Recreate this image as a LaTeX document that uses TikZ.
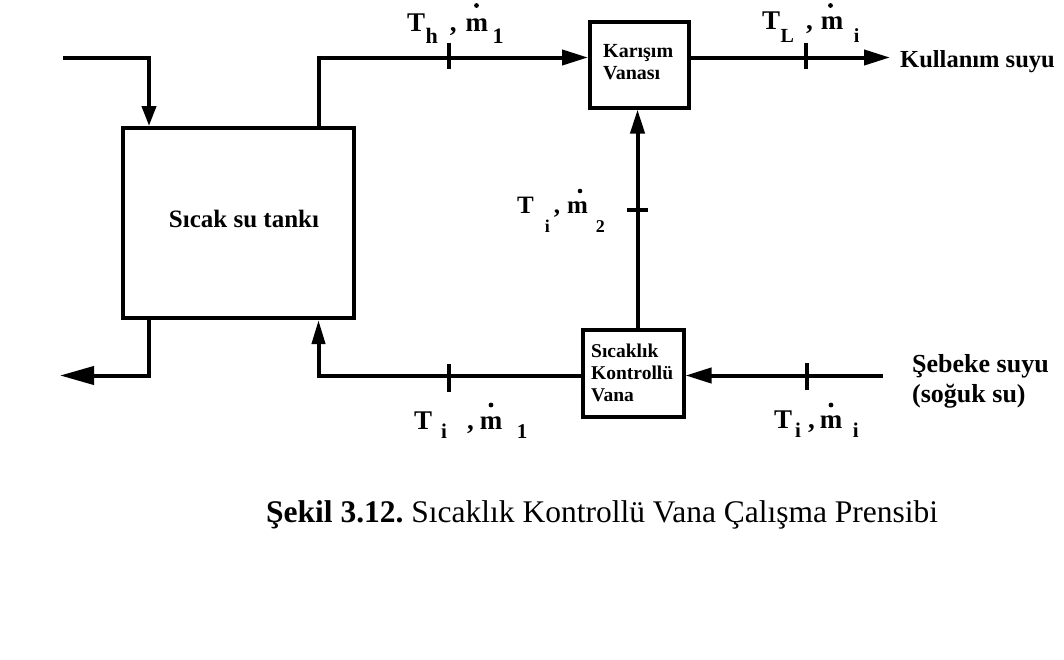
\documentclass[tikz,border=0pt]{standalone}
\usepackage{fontspec}
\setmainfont{Liberation Serif}
\usetikzlibrary{arrows.meta}

\newcommand\fs[1]{\fontsize{#1}{#1}\selectfont}

\begin{document}
\begin{tikzpicture}[x=1pt,y=-1pt,
  pipe/.style={line width=4pt},
  boxed/.style={draw, rectangle, line width=4pt, inner sep=0pt},
  tickmark/.style={line width=3.5pt},
  txt/.style={inner sep=0pt, anchor=base west, font=\bfseries\fs{20}},
  flowlbl/.style={inner sep=0pt, anchor=base west, font=\bfseries\fs{27}},
  tip/.style={-{Triangle[length=26pt,width=15pt]}},
  ratedot/.style={fill=black}
]
\useasboundingbox (0,0) rectangle (1064,659);

% components
\node[boxed, minimum width=231pt, minimum height=190pt] (tank) at (238.5,223) {};
\node[boxed, minimum width=99pt, minimum height=86pt] (kv) at (639.5,64.5) {};
\node[boxed, minimum width=100.5pt, minimum height=87pt] (sv) at (633.25,373.5) {};

% component texts
\node[inner sep=0pt, anchor=base, font=\bfseries\fs{25}] (tanktxt) at (244,227) {Sıcak su tankı};
\node[txt] (kvt1) at (603,57) {Karışım};
\node[txt] (kvt2) at (603,79) {Vanası};
\node[txt, font=\bfseries\fs{19.5}] (svt1) at (591,357) {Sıcaklık};
\node[txt, font=\bfseries\fs{19.5}] (svt2) at (591,379) {Kontrollü};
\node[txt, font=\bfseries\fs{19.5}] (svt3) at (591,401) {Vana};
\node[txt, font=\bfseries\fs{24.5}] (use) at (900,67) {Kullanım suyu};
\node[txt, font=\bfseries\fs{26}] (main1) at (912,372) {Şebeke suyu};
\node[txt, font=\bfseries\fs{26}] (main2) at (912,402) {(soğuk su)};

% routing points
\coordinate (inA) at (63,57.5);
\coordinate (xL) at (149,0);
\coordinate (xR) at (318.5,0);
\coordinate (xV) at (637.5,0);
\coordinate (yTop) at (0,57.5);
\coordinate (yBot) at (0,375.5);
\coordinate (outE) at (890,57.5);
\coordinate (outW) at (60,375.5);
\coordinate (inE) at (883,375.5);

% pipes
\draw[pipe, -{Triangle[length=20pt,width=14pt]}] (inA) -| (tank.north -| xL);
\draw[pipe, tip] (tank.north -| xR) |- (kv.west |- yTop);
\draw[pipe, tip] (kv.east |- yTop) -- (outE);
\draw[pipe, -{Triangle[length=24pt,width=14pt]}] (sv.north -| xV) -- (kv.south -| xV);
\draw[pipe, tip] (inE) -- (sv.east |- yBot);
\draw[pipe, -{Triangle[length=24pt,width=13pt]}] (sv.west |- yBot) -| (tank.south -| xR);
\draw[pipe, -{Triangle[length=34pt,width=18pt]}] (tank.south -| xL) |- (outW);

% measuring points
\draw[tickmark] (449,43) -- (449,69);
\draw[tickmark] (806,43) -- (806,69);
\draw[tickmark] (627,210) -- (648,210);
\draw[tickmark] (449,364) -- (449,392);
\draw[tickmark] (807,363) -- (807,390);

% state labels (temperature, mass flow rate)
\node[flowlbl] (lh) at (407,31)
  {T\hspace{0.5pt}\raisebox{-12pt}{\fs{22}h}\hspace{12pt},\hspace{9pt}m\hspace{4.5pt}\raisebox{-12pt}{\fs{22}1}};
\node[flowlbl] (lL) at (762,29)
  {T\hspace{0.5pt}\raisebox{-13pt}{\fs{20}L}\hspace{12pt},\hspace{8pt}m\hspace{10.5pt}\raisebox{-13pt}{\fs{20}i}};
\node[flowlbl, font=\bfseries\fs{25}] (l2) at (517,213)
  {T\hspace{11pt}\raisebox{-19pt}{\fs{18}i}\hspace{4pt},\hspace{7pt}m\hspace{8pt}\raisebox{-19pt}{\fs{18}2}};
\node[flowlbl] (l1) at (414,429)
  {T\hspace{9pt}\raisebox{-9pt}{\fs{21}i}\hspace{20pt},\hspace{6pt}m\hspace{14.5pt}\raisebox{-9pt}{\fs{21}1}};
\node[flowlbl] (li) at (774,428)
  {T\hspace{3pt}\raisebox{-9pt}{\fs{21}i}\hspace{7pt},\hspace{5pt}m\hspace{10.5pt}\raisebox{-9pt}{\fs{21}i}};

% rate dots over the m's
\fill[ratedot] (476.5,5.5) circle (2.4);
\fill[ratedot] (830.5,5.5) circle (2.4);
\fill[ratedot] (580,191) circle (2.3);
\fill[ratedot] (491,405) circle (2.4);
\fill[ratedot] (831,405) circle (2.4);

% caption
\node[inner sep=0pt, anchor=base west, font=\fs{31.5}] (cap) at (266,522)
  {\frenchspacing\textbf{Şekil 3.12.} Sıcaklık Kontrollü Vana Çalışma Prensibi};
\end{tikzpicture}
\end{document}
